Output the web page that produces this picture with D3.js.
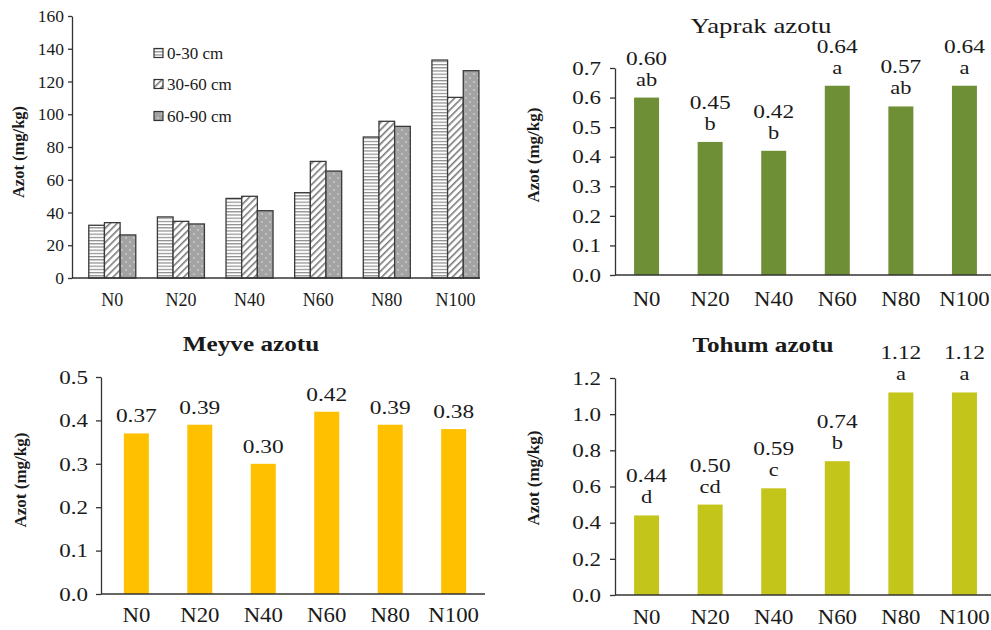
<!DOCTYPE html>
<html>
<head>
<meta charset="utf-8">
<script src="https://cdn.jsdelivr.net/npm/d3@7"></script>
<style>
  html, body { margin: 0; padding: 0; background: #fff; }
  svg { display: block; }
  text { font-family: "Liberation Serif", "Times New Roman", serif; fill: #1a1a1a; }
</style>
</head>
<body>
<svg id="chart" width="991" height="630"></svg>
<script>
// ---- Data ----
const categories = ["N0", "N20", "N40", "N60", "N80", "N100"];

// Soil nitrogen by depth (mg/kg)
const depthSeries = ["0-30 cm", "30-60 cm", "60-90 cm"];
const soil0to30 = [32.2, 37.3, 48.6, 52.1, 86.1, 133.1];
const soil30to60 = [33.8, 34.6, 49.9, 71.2, 95.7, 110.3];
const soil60to90 = [26.3, 33.0, 41.1, 65.3, 92.6, 126.6];
const soilTicks = [0, 20, 40, 60, 80, 100, 120, 140, 160];

// Leaf nitrogen
const leafValues = [0.60, 0.45, 0.42, 0.64, 0.57, 0.64];
const leafGroups = ["ab", "b", "b", "a", "ab", "a"];
const leafTicks = [0, 0.1, 0.2, 0.3, 0.4, 0.5, 0.6, 0.7];

// Fruit nitrogen
const fruitValues = [0.37, 0.39, 0.30, 0.42, 0.39, 0.38];
const fruitTicks = [0, 0.1, 0.2, 0.3, 0.4, 0.5];

// Seed nitrogen
const seedValues = [0.44, 0.50, 0.59, 0.74, 1.12, 1.12];
const seedGroups = ["d", "cd", "c", "b", "a", "a"];
const seedTicks = [0, 0.2, 0.4, 0.6, 0.8, 1.0, 1.2];

const yTitle = "Azot (mg/kg)";

const svg = d3.select("#chart");
const defs = svg.append("defs");

// ---- Fill patterns for the depth bars ----
const pH = defs.append("pattern").attr("id", "pat-h")
  .attr("patternUnits", "userSpaceOnUse").attr("width", 6).attr("height", 3.2);
pH.append("rect").attr("width", 6).attr("height", 3.2).attr("fill", "#fff");
pH.append("rect").attr("y", 0).attr("width", 6).attr("height", 1.2).attr("fill", "#8c8c8c");

const pD = defs.append("pattern").attr("id", "pat-d")
  .attr("patternUnits", "userSpaceOnUse").attr("width", 5).attr("height", 5)
  .attr("patternTransform", "rotate(45)");
pD.append("rect").attr("width", 5).attr("height", 5).attr("fill", "#fff");
pD.append("rect").attr("x", 0).attr("width", 1.6).attr("height", 5).attr("fill", "#7a7a7a");

const pS = defs.append("pattern").attr("id", "pat-s")
  .attr("patternUnits", "userSpaceOnUse").attr("width", 8).attr("height", 8);
pS.append("rect").attr("width", 8).attr("height", 8).attr("fill", "#a3a3a3");
pS.append("circle").attr("cx", 2).attr("cy", 2).attr("r", 0.8).attr("fill", "#e6e6e6");
pS.append("circle").attr("cx", 6).attr("cy", 6).attr("r", 0.8).attr("fill", "#e6e6e6");

const depthFills = ["url(#pat-h)", "url(#pat-d)", "url(#pat-s)"];
const depthValues = [soil0to30, soil30to60, soil60to90];

// Text helper: horizontally stretched serif text
function stext(g, x, y, str, opts = {}) {
  const sx = opts.sx || 1;
  return g.append("text")
    .attr("transform", `translate(${x},${y}) scale(${sx},1)`)
    .attr("text-anchor", opts.anchor || "middle")
    .attr("font-size", opts.size || 17)
    .attr("font-weight", opts.weight || "normal")
    .text(str);
}

function yAxisTitle(x, y, size) {
  svg.append("text")
    .attr("transform", `translate(${x},${y}) rotate(-90)`)
    .attr("text-anchor", "middle")
    .attr("dy", "0.35em")
    .attr("font-size", size)
    .attr("font-weight", "bold")
    .text(yTitle);
}

function drawYAxis(g, y, ticks, fmt, opts) {
  const ax = g.append("g").attr("transform", `translate(${opts.x0},0)`)
    .call(d3.axisLeft(y).tickValues(ticks).tickFormat(fmt)
      .tickSize(opts.tick).tickSizeOuter(0).tickPadding(opts.pad));
  ax.select(".domain").attr("stroke", "#333").attr("stroke-width", 1.3);
  ax.selectAll(".tick line").attr("stroke", "#333").attr("stroke-width", 1.3);
  ax.selectAll(".tick text")
    .attr("font-family", "Liberation Serif, serif")
    .attr("font-size", opts.size)
    .attr("fill", "#1a1a1a")
    .attr("x", -(opts.tick + opts.pad) / opts.sx)
    .attr("transform", `scale(${opts.sx},1)`);
  return ax;
}

// ---- Panel 1: soil nitrogen by depth ----
(function () {
  const g = svg.append("g");
  const x0 = 72, x1 = 480, yBase = 278, yTop = 16;
  const x = d3.scaleBand().domain(categories).range([x0, x1])
    .paddingInner(0.315).paddingOuter(0.13).align(0.94);
  const xs = d3.scaleBand().domain(depthSeries).range([0, x.bandwidth()]);
  const y = d3.scaleLinear().domain([0, 160]).range([yBase, yTop]);

  drawYAxis(g, y, soilTicks, d3.format("d"), { x0, tick: 4, pad: 4, size: 17.5, sx: 1 });

  depthSeries.forEach((s, si) => {
    g.append("g").selectAll("rect").data(depthValues[si]).join("rect")
      .attr("x", (d, i) => x(categories[i]) + xs(s))
      .attr("y", d => y(d))
      .attr("width", xs.bandwidth())
      .attr("height", d => yBase - y(d))
      .attr("fill", depthFills[si])
      .attr("stroke", "#3a3a3a").attr("stroke-width", 1.3);
  });

  g.append("line").attr("x1", x0).attr("x2", x1).attr("y1", yBase).attr("y2", yBase)
    .attr("stroke", "#333").attr("stroke-width", 1.3);

  categories.forEach(c => {
    stext(g, x(c) + x.bandwidth() / 2, 306, c, { size: 18 });
  });

  // legend
  const ly = [53, 84, 116];
  depthSeries.forEach((s, i) => {
    g.append("rect").attr("x", 154).attr("y", ly[i] - 4.5).attr("width", 9).attr("height", 9)
      .attr("fill", depthFills[i]).attr("stroke", "#333").attr("stroke-width", 1.2);
    stext(g, 167, ly[i] + 6, s, { size: 17, anchor: "start" });
  });

  yAxisTitle(18, 152, 16.5);
})();

// ---- Simple bar panels ----
function barPanel(cfg) {
  const g = svg.append("g");
  const x = d3.scaleBand().domain(categories).range([cfg.x0, cfg.xEnd])
    .paddingInner(cfg.pi).paddingOuter(cfg.po);
  const y = d3.scaleLinear().domain([0, cfg.max]).range([cfg.yBase, cfg.yTop]);

  drawYAxis(g, y, cfg.ticks, d3.format(".1f"), { x0: cfg.x0, tick: 5, pad: cfg.pad, size: 19.5, sx: 1.18 });

  g.append("g").selectAll("rect").data(cfg.values).join("rect")
    .attr("x", (d, i) => x(categories[i]))
    .attr("y", d => y(d))
    .attr("width", x.bandwidth())
    .attr("height", d => cfg.yBase - y(d))
    .attr("fill", cfg.color);

  g.append("line").attr("x1", cfg.x0).attr("x2", cfg.axisEnd)
    .attr("y1", cfg.yBase).attr("y2", cfg.yBase)
    .attr("stroke", "#333").attr("stroke-width", 1.3);

  cfg.values.forEach((v, i) => {
    const cx = x(categories[i]) + x.bandwidth() / 2;
    const top = y(v);
    if (cfg.groups) {
      stext(g, cx, top - 12, cfg.groups[i], { size: 19.5, sx: 1.15 });
      stext(g, cx, top - 33, d3.format(".2f")(v), { size: 19.5, sx: 1.2 });
    } else {
      stext(g, cx, top - 11, d3.format(".2f")(v), { size: 19.5, sx: 1.2 });
    }
  });

  categories.forEach(c => {
    stext(g, x(c) + x.bandwidth() / 2, cfg.labelY, c, { size: 21.5, sx: 1.06 });
  });

  stext(g, cfg.titleX, cfg.titleY, cfg.title, { size: cfg.titleSize, sx: cfg.titleSx, weight: cfg.titleWeight });
  yAxisTitle(cfg.ytX, cfg.ytY, 17);
}

barPanel({
  values: leafValues, groups: leafGroups, ticks: leafTicks, max: 0.7,
  color: "#6f8f37", x0: 615, xEnd: 996, axisEnd: 991, pi: 0.607, po: 0.3,
  yBase: 275, yTop: 68, pad: 9, labelY: 306,
  title: "Yaprak azotu", titleX: 761, titleY: 33, titleSize: 22, titleSx: 1.22, titleWeight: "normal",
  ytX: 533, ytY: 155
});

barPanel({
  values: fruitValues, ticks: fruitTicks, max: 0.5,
  color: "#ffc000", x0: 101, xEnd: 489, axisEnd: 485, pi: 0.606, po: 0.36,
  yBase: 594, yTop: 377, pad: 8, labelY: 622,
  title: "Meyve azotu", titleX: 251, titleY: 351, titleSize: 21, titleSx: 1.2, titleWeight: "bold",
  ytX: 20, ytY: 480
});

barPanel({
  values: seedValues, groups: seedGroups, ticks: seedTicks, max: 1.2,
  color: "#c4c51b", x0: 615, xEnd: 996, axisEnd: 991, pi: 0.607, po: 0.3,
  yBase: 595, yTop: 378, pad: 9, labelY: 624,
  title: "Tohum azotu", titleX: 763, titleY: 352, titleSize: 21, titleSx: 1.2, titleWeight: "bold",
  ytX: 533, ytY: 478
});
</script>
</body>
</html>
